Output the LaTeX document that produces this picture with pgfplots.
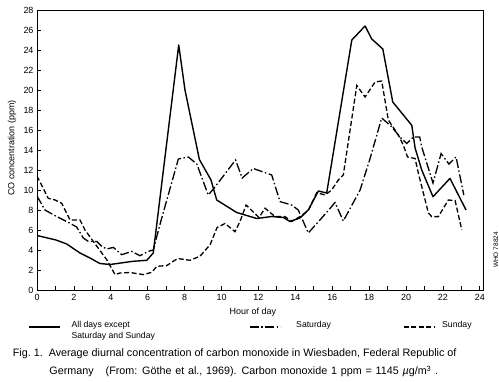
\documentclass[border=0pt]{standalone}
\usepackage{fontspec}
\setmainfont{Liberation Sans}
\usepackage{pgfplots}
\pgfplotsset{compat=1.18}
\begin{document}
\begin{tikzpicture}[font=\fontsize{9}{11}\selectfont]
\path[use as bounding box] (-37bp,-92bp) rectangle (462bp,290bp);
\begin{axis}[
  scale only axis, width=446bp, height=280bp,
  xmin=0, xmax=24.17, ymin=0, ymax=28,
  xtick={0,2,...,24}, minor xtick={1,3,...,23},
  ytick={0,2,...,28},
  tick pos=left, tick align=inside,
  major tick length=4bp, minor tick length=4bp,
  axis line style={line width=0.8bp},
  every tick/.style={black, line width=0.8bp},
  /pgf/number format/assume math mode=true,
  tick label style={font=\fontsize{9}{11}\selectfont},
  xticklabel style={yshift=-1bp},
  xlabel={Hour of day}, ylabel={CO concentration (ppm)},
  label style={font=\fontsize{9}{11}\selectfont},
  xlabel style={at={(axis description cs:0.484,-0.0786)}, anchor=center},
  ylabel style={at={(axis description cs:-0.056,0.507)}, anchor=center},
  legend columns=3,
  legend cell align=left,
  legend image code/.code={\draw[#1] (0bp,0bp) -- (31bp,0bp);},
  legend style={draw=none, fill=none, inner sep=0pt,
    at={(axis description cs:-0.0202,-0.132)}, anchor=west,
    font=\fontsize{8.7}{10.6}\selectfont,
    /tikz/column 1/.style={column sep=9bp},
    /tikz/column 2/.style={column sep=92bp},
    /tikz/column 3/.style={column sep=13bp},
    /tikz/column 4/.style={column sep=70bp},
    /tikz/column 5/.style={column sep=5bp}},
]
\addplot[black, line width=1.4bp, line join=round] coordinates {
(0,5.45) (1.03,5.0) (1.61,4.6) (2.33,3.7) (2.87,3.2) (3.41,2.65) (3.96,2.55)
(5.20,2.87) (5.95,2.97) (6.30,3.7) (7.68,24.5) (8.02,20.0) (8.80,13.05)
(9.43,11.0) (9.74,9.0) (10.82,7.75) (11.91,7.15) (12.72,7.35) (13.35,7.25)
(13.71,6.85) (14.25,7.2) (14.70,8.0) (15.25,9.9) (15.70,9.7) (17.06,25.0)
(17.78,26.4) (18.14,25.1) (18.74,24.1) (19.28,18.8) (20.31,16.47) (20.49,14.2)
(20.85,12.0) (21.46,9.33) (22.38,11.16) (23.25,8.0)
};
\addlegendentry{\begin{tabular}{@{}l@{}}All days except\\[0.8bp]Saturday and Sunday\end{tabular}}
\addplot[black, line width=1.3bp, dash pattern=on 9bp off 2.5bp on 1.5bp off 2.5bp] coordinates {
(0,9.4) (0.43,8.0) (1.07,7.34) (1.61,6.85) (2.15,6.3) (2.51,5.2) (2.78,4.86)
(3.24,4.86) (3.51,4.36) (3.78,4.1) (4.14,4.26) (4.59,3.53) (5.13,3.86)
(5.58,3.43) (6.03,3.86) (6.30,4.0) (6.67,6.6) (7.66,13.1) (8.20,13.3)
(8.66,12.6) (9.28,9.5) (9.56,10.1) (10.76,13.0) (11.12,11.2) (11.72,12.15)
(12.72,11.5) (13.17,8.84) (13.80,8.5) (14.16,8.0) (14.70,5.7) (15.43,7.2)
(16.15,8.74) (16.60,6.9) (17.51,10.0) (18.05,13.15) (18.68,17.2) (19.18,16.4)
(19.72,15.2) (20.04,14.65) (20.40,15.3) (20.74,15.3) (20.85,14.3) (21.46,10.7)
(21.90,13.65) (22.32,12.6) (22.71,13.3) (23.13,9.5)
};
\addlegendentry{\raisebox{3.5bp}{Saturday}}
\addplot[black, line width=1.3bp, dash pattern=on 5bp off 2.5bp] coordinates {
(0,11.4) (0.61,9.17) (0.98,9.0) (1.34,8.67) (1.79,7.0) (2.33,7.0) (2.60,6.0)
(3.05,4.86) (3.78,3.03) (4.23,1.54) (4.50,1.7) (5.04,1.75) (5.76,1.54)
(6.22,1.77) (6.49,2.37) (7.03,2.44) (7.62,3.15) (8.29,2.97) (8.83,3.37)
(9.38,4.53) (9.76,6.25) (10.19,6.65) (10.73,5.83) (11.00,6.85) (11.33,8.5)
(12.03,7.25) (12.36,8.18) (12.90,7.34) (13.44,7.34) (13.80,6.85) (14.25,7.34)
(14.70,7.94) (15.16,9.73) (15.61,9.5) (15.97,10.0) (16.33,11.0) (16.60,11.5)
(17.33,20.45) (17.78,19.3) (18.32,20.8) (18.68,20.9) (19.04,17.0) (19.58,15.5)
(19.85,14.5) (20.08,13.3) (20.49,13.15) (20.67,11.66) (21.21,7.7) (21.39,7.34)
(21.75,7.34) (22.29,9.0) (22.66,8.94) (23.02,6.0)
};
\addlegendentry{\raisebox{3.5bp}{Sunday}}
\end{axis}
\node[anchor=west, inner sep=0pt, font=\fontsize{10.8}{13}\selectfont] at (-24.3bp,-63.5bp)
  {Fig.~1.\hspace{6bp}Average diurnal concentration of carbon monoxide in Wiesbaden, Federal Republic of};
\node[anchor=west, inner sep=0pt, font=\fontsize{10.8}{13}\selectfont] at (12.3bp,-81.5bp)
  {\spaceskip=1.27\fontdimen2\font Germany\hspace{12bp}(From: Göthe et al., 1969). Carbon monoxide 1 ppm = 1145 \textit{µ}g/m\textsuperscript{3} .};
\node[rotate=90, inner sep=0pt, font=\fontsize{6.5}{7}\selectfont] at (459bp,40bp) {WHO 78824};
\end{tikzpicture}
\end{document}
